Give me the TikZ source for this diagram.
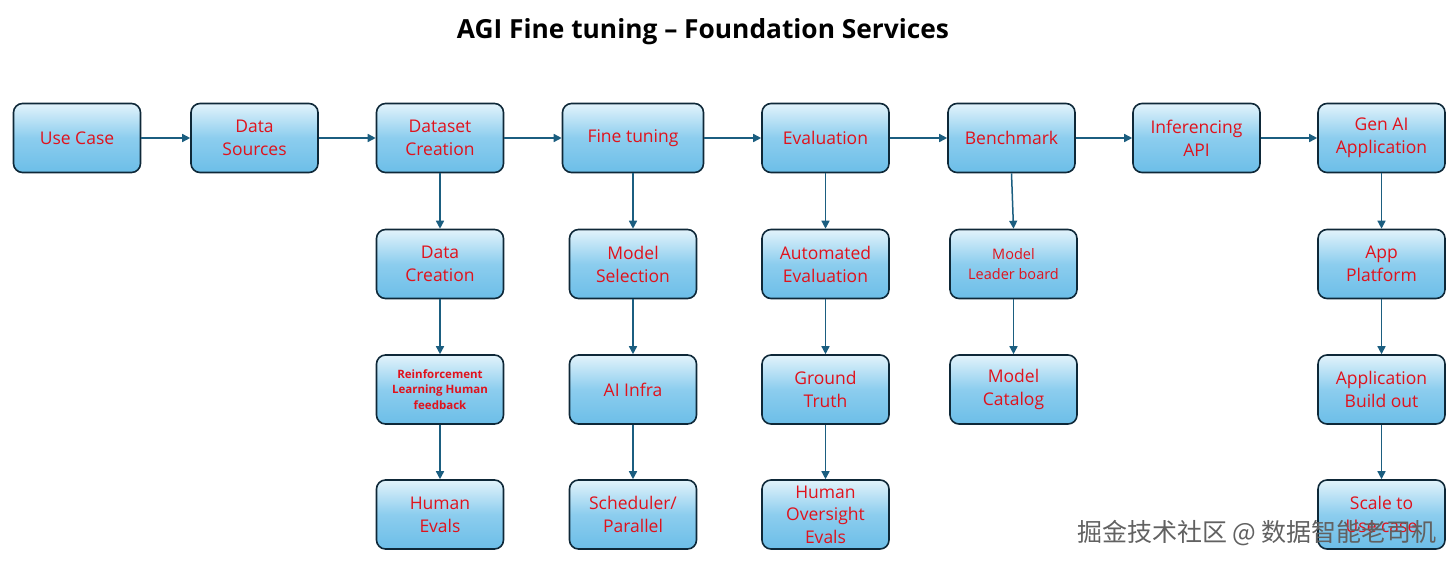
\documentclass[tikz,border=0pt]{standalone}
\usepackage{fontspec}
\setmainfont{Open Sans}
\newfontfamily\cjkfont{Noto Sans CJK SC}
\usetikzlibrary{arrows.meta}

\definecolor{boxtop}{RGB}{226,243,251}
\definecolor{boxmid}{RGB}{140,205,238}
\definecolor{boxbot}{RGB}{108,190,232}
\definecolor{boxline}{RGB}{14,40,56}
\definecolor{flowline}{RGB}{27,94,128}
\definecolor{labelred}{RGB}{224,18,28}

\tikzset{
  stage/.style={draw=boxline, line width=1.6pt, rounded corners=9pt,
    top color=boxtop, bottom color=boxbot, middle color=boxmid,
    minimum width=127pt, minimum height=69pt, align=center, inner sep=2pt,
    text=labelred, font=\fontsize{17.5}{23}\selectfont},
  flow/.style={draw=flowline, line width=1.5pt, -{Triangle[length=8pt,width=8pt]}},
}

\begin{document}
\begin{tikzpicture}[x=1pt, y=-1pt]

    \useasboundingbox (0,0) rectangle (1455,565);

    % Title
    \node[font=\bfseries\fontsize{26.3}{30}\selectfont] (title) at (703,32) {AGI Fine tuning -- Foundation Services};

    % Main pipeline (top row)
    \node[stage] (usecase)   at (77,138)     {Use Case};
    \node[stage] (sources)   at (254.5,138)  {Data\\Sources};
    \node[stage] (dataset)   at (440,138)    {Dataset\\Creation};
    \node[stage, minimum width=141pt] (finetune) at (633,138) {Fine tuning};
    \node[stage] (evaluation) at (825.5,138) {Evaluation};
    \node[stage] (benchmark) at (1011.5,138) {Benchmark};
    \node[stage] (inference) at (1196.5,138) {Inferencing\\API};
    \node[stage] (genai)     at (1381.5,138) {Gen AI\\Application};

    % Dataset column
    \node[stage] (datacreate) at (440,264)   {Data\\Creation};
    \node[stage, font=\bfseries\fontsize{11.5}{15.5}\selectfont] (rlhf) at (440,389.5) {Reinforcement\\Learning Human\\feedback};
    \node[stage] (humanevals) at (440,514.5) {Human\\Evals};

    % Fine tuning column
    \node[stage] (modelsel)  at (633,264)    {Model\\Selection};
    \node[stage] (infra)     at (633,389.5)  {AI Infra};
    \node[stage] (scheduler) at (633,514.5)  {Scheduler/\\Parallel};

    % Evaluation column
    \node[stage] (autoeval)  at (825.5,264)  {Automated\\Evaluation};
    \node[stage] (truth)     at (825.5,389.5) {Ground\\Truth};
    \node[stage, font=\fontsize{17.5}{22.5}\selectfont] (oversight) at (825.5,514.5) {Human\\Oversight\\Evals};

    % Benchmark column
    \node[stage, font=\fontsize{14.5}{20}\selectfont] (leader) at (1013.5,264) {Model\\Leader board};
    \node[stage] (catalog)   at (1013.5,389.5) {Model\\Catalog};

    % Application column
    \node[stage] (appplat)   at (1381.5,264)  {App\\Platform};
    \node[stage] (buildout)  at (1381.5,389.5) {Application\\Build out};
    \node[stage] (scale)     at (1381.5,514.5) {Scale to\\Use case};

    % Top row flow
    \draw[flow] (usecase) -- (sources);
    \draw[flow] (sources) -- (dataset);
    \draw[flow] (dataset) -- (finetune);
    \draw[flow] (finetune) -- (evaluation);
    \draw[flow] (evaluation) -- (benchmark);
    \draw[flow] (benchmark) -- (inference);
    \draw[flow] (inference) -- (genai);

    % Downward flows
    \draw[flow] (dataset) -- (datacreate);
    \draw[flow] (datacreate) -- (rlhf);
    \draw[flow] (rlhf) -- (humanevals);
    \draw[flow] (finetune) -- (modelsel);
    \draw[flow] (modelsel) -- (infra);
    \draw[flow] (infra) -- (scheduler);
    \draw[flow] (evaluation) -- (autoeval);
    \draw[flow] (autoeval) -- (truth);
    \draw[flow] (truth) -- (oversight);
    \draw[flow] (benchmark.south) -- (leader.north);
    \draw[flow] (leader) -- (catalog);
    \draw[flow] (genai) -- (appplat);
    \draw[flow] (appplat) -- (buildout);
    \draw[flow] (buildout) -- (scale);

    % Watermark
    \node[text=black!62, font=\cjkfont\fontsize{25}{28}\selectfont] (mark) at (1257,533) {掘金技术社区 @ 数据智能老司机};

\end{tikzpicture}
\end{document}
